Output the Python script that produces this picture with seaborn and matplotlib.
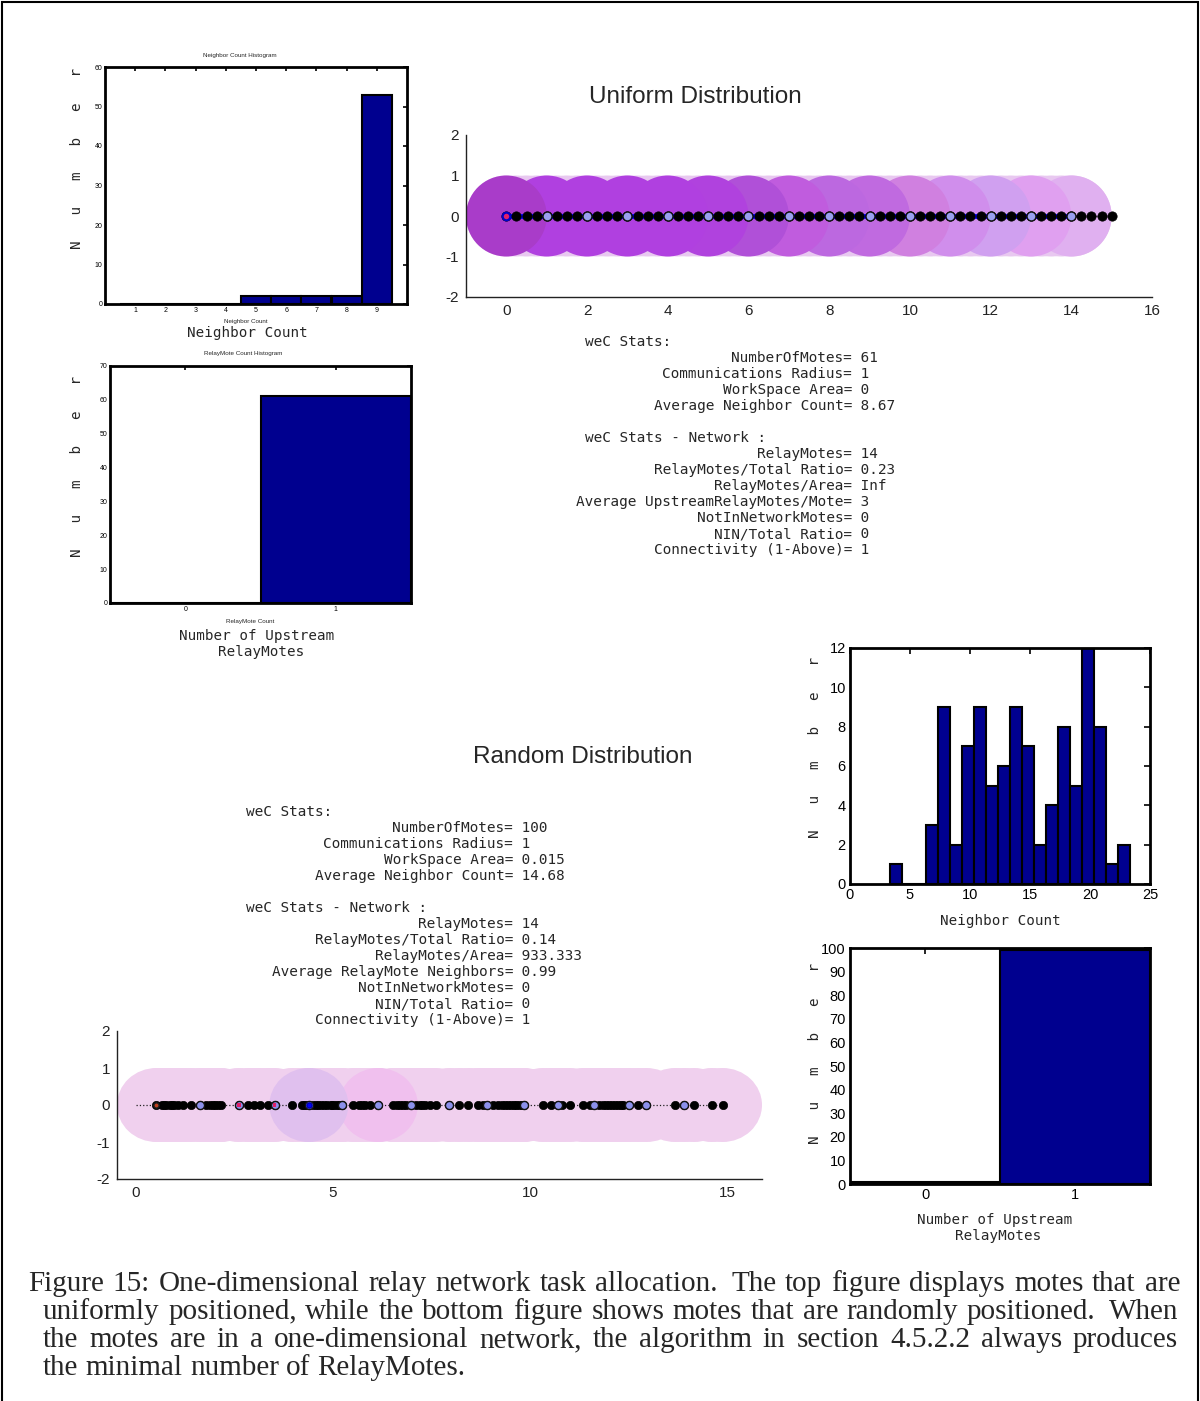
import numpy as np
import pandas as pd
import matplotlib
matplotlib.use("Agg")
import matplotlib.pyplot as plt
from matplotlib.patches import Ellipse, Rectangle
import seaborn as sns

# ---------------- data ----------------
uni_nc_values = [1, 2, 3, 4, 5, 6, 7, 8, 9]
uni_nc_counts = [0, 0, 0, 0, 2, 2, 2, 2, 53]
uni_rm_values = [0, 1]
uni_rm_counts = [0, 61]

uni_motes = [0.0, 0.25, 0.5, 0.75, 1.0, 1.25, 1.5, 1.75, 2.0, 2.25, 2.5, 2.75,
             3.0, 3.25, 3.5, 3.75, 4.0, 4.25, 4.5, 4.75, 5.0, 5.25, 5.5, 5.75,
             6.0, 6.25, 6.5, 6.75, 7.0, 7.25, 7.5, 7.75, 8.0, 8.25, 8.5, 8.75,
             9.0, 9.25, 9.5, 9.75, 10.0, 10.25, 10.5, 10.75, 11.0, 11.25, 11.5,
             11.75, 12.0, 12.25, 12.5, 12.75, 13.0, 13.25, 13.5, 13.75, 14.0,
             14.25, 14.5, 14.75, 15.0]
uni_root = [0.0]
uni_relays = [1, 2, 3, 4, 5, 6, 7, 8, 9, 10, 11, 12, 13, 14]
uni_cover = [0, 1, 2, 3, 4, 5, 6, 7, 8, 9, 10, 11, 12, 13, 14]

rand_motes = [0.53, 0.66, 0.73, 0.78, 0.88, 0.93, 0.98, 1.08, 1.20,
              1.40, 1.64, 1.78, 1.88, 1.95, 2.02, 2.10, 2.16,
              2.61, 2.86, 3.00, 3.14, 3.36, 3.52, 3.97,
              4.22, 4.27, 4.32, 4.39, 4.50, 4.57, 4.62, 4.70, 4.78, 4.86, 4.94,
              4.98, 5.02, 5.10, 5.16, 5.23,
              5.52, 5.66, 5.74, 5.82, 5.95, 6.15,
              6.52, 6.62, 6.70, 6.78, 6.86, 6.98, 7.10, 7.20, 7.26, 7.34, 7.45, 7.60,
              7.95, 8.19, 8.43, 8.68, 8.80, 8.91, 9.06,
              9.18, 9.28, 9.36, 9.44, 9.52, 9.58, 9.64, 9.72, 9.78, 9.84,
              10.32, 10.52, 10.71, 10.80, 11.00, 11.34,
              11.50, 11.62, 11.74, 11.84, 11.92, 12.00, 12.06, 12.14, 12.22, 12.30, 12.36,
              12.51, 12.72, 12.94, 13.67, 13.90, 14.15, 14.60, 14.87]
rand_root = [0.53]
rand_relays = [1.64, 2.61, 3.52, 4.39, 5.23, 6.15, 6.98, 7.95, 8.91, 9.84,
               10.71, 11.62, 12.51, 12.94, 13.90]
rand_red_marks = [2.61, 3.52]
rand_blue_mark = [4.39]
rand_highlight = [4.39, 6.15]

rand_nc_start = 3.37
rand_nc_width = 0.9965
rand_nc_counts = [1, 0, 0, 3, 9, 2, 7, 9, 5, 6, 9, 7, 2, 4, 8, 5, 12, 8, 1, 2]
rand_rm_values = [0, 1]
rand_rm_counts = [1, 99]

uni_stats_a = [("NumberOfMotes", "61"), ("Communications Radius", "1"),
               ("WorkSpace Area", "0"), ("Average Neighbor Count", "8.67")]
uni_stats_b = [("RelayMotes", "14"), ("RelayMotes/Total Ratio", "0.23"),
               ("RelayMotes/Area", "Inf"), ("Average UpstreamRelayMotes/Mote", "3"),
               ("NotInNetworkMotes", "0"), ("NIN/Total Ratio", "0"),
               ("Connectivity (1-Above)", "1")]
rand_stats_a = [("NumberOfMotes", "100"), ("Communications Radius", "1"),
                ("WorkSpace Area", "0.015"), ("Average Neighbor Count", "14.68")]
rand_stats_b = [("RelayMotes", "14"), ("RelayMotes/Total Ratio", "0.14"),
                ("RelayMotes/Area", "933.333"), ("Average RelayMote Neighbors", "0.99"),
                ("NotInNetworkMotes", "0"), ("NIN/Total Ratio", "0"),
                ("Connectivity (1-Above)", "1")]

caption = ["Figure 15: One-dimensional relay network task allocation.  The top figure displays motes that are",
           "uniformly positioned, while the bottom figure shows motes that are randomly positioned.  When",
           "the motes are in a one-dimensional network, the algorithm in section 4.5.2.2 always produces",
           "the minimal number of RelayMotes."]

# ---------------- style ----------------
sns.set_theme(style="white")
plt.rcParams['font.family'] = ['Liberation Sans', 'DejaVu Sans']
plt.rcParams['axes.unicode_minus'] = False
NAVY = '#00008F'
MONO = 'DejaVu Sans Mono'
SERIF = 'Liberation Serif'

W, H = 1200, 1401
fig = plt.figure(figsize=(W / 100, H / 100), dpi=100)
fig.patch.set_facecolor('white')


def ax_at(l, t, r, b):
    return fig.add_axes([l / W, 1 - b / H, (r - l) / W, (b - t) / H])


def ftext(x, y, s, **kw):
    kw.setdefault('ha', 'center')
    kw.setdefault('va', 'center')
    return fig.text(x / W, 1 - y / H, s, **kw)


def style_hist(ax, small=False):
    for sp in ax.spines.values():
        sp.set_visible(True)
        sp.set_linewidth(2.0)
        sp.set_color('black')
    ax.tick_params(direction='in', top=True, right=True, length=3 if small else 4,
                   width=1.2, labelsize=5 if small else 10.5, colors='black',
                   pad=2 if small else 3)
    ax.set_xlabel('')
    ax.set_ylabel('')


def hist(ax, values, weights, bins):
    df = pd.DataFrame({'v': values, 'w': weights})
    sns.histplot(data=df, x='v', weights='w', bins=list(bins), ax=ax, color=NAVY,
                 edgecolor='black', linewidth=1.5, alpha=1.0, stat='count')


# ---- top-left histogram ----
ax1 = ax_at(105, 67, 407, 304)
hist(ax1, uni_nc_values, uni_nc_counts, np.arange(0.5, 10.0, 1.0))
ax1.set_xlim(0, 10)
ax1.set_ylim(0, 60)
ax1.set_xticks(uni_nc_values)
ax1.set_yticks([0, 10, 20, 30, 40, 50, 60])
style_hist(ax1, small=True)
ftext(240, 55, "Neighbor Count Histogram", fontsize=4.5)
ftext(246, 322, "Neighbor Count", fontsize=4.5)
ftext(247, 333, "Neighbor Count", fontsize=10.3, family=MONO)
ftext(77, 158, "N   u   m   b   e   r", fontsize=10.3, family=MONO, rotation=90)

# ---- second-left histogram ----
ax2 = ax_at(110, 366, 411, 603)
hist(ax2, uni_rm_values, uni_rm_counts, [-0.5, 0.5, 1.5])
ax2.set_xlim(-0.5, 1.5)
ax2.set_ylim(0, 70)
ax2.set_xticks([0, 1])
ax2.set_yticks([0, 10, 20, 30, 40, 50, 60, 70])
style_hist(ax2, small=True)
ftext(243, 354, "RelayMote Count Histogram", fontsize=4.5)
ftext(250, 621, "RelayMote Count", fontsize=4.5)
ftext(257, 636, "Number of Upstream", fontsize=10.3, family=MONO)
ftext(261, 652, "RelayMotes", fontsize=10.3, family=MONO)
ftext(77, 466, "N   u   m   b   e   r", fontsize=10.3, family=MONO, rotation=90)


def style_scatter(ax):
    for k in ['top', 'right']:
        ax.spines[k].set_visible(False)
    for k in ['left', 'bottom']:
        ax.spines[k].set_linewidth(1.0)
        ax.spines[k].set_color('#222222')
    ax.tick_params(direction='in', length=5, width=1.0, labelsize=11,
                   colors='#222222', pad=5)
    ax.set_xlabel('')
    ax.set_ylabel('')
    ax.set_facecolor('white')


# ---- uniform distribution ----
axu = ax_at(466, 135, 1152, 297)
uni_cover_colors = ['#A93CC9', '#B040E0', '#B040E0', '#B040E0', '#B040E0', '#B042DE',
                    '#B050D8', '#C05CDE', '#BC68E0', '#C06AE0', '#D080E0', '#D08EEC',
                    '#D0A0F0', '#E0A0F0', '#E0B0F0']
for cx in uni_motes[:57]:
    axu.add_patch(Ellipse((cx, 0), 2, 2, facecolor='#E8C8F0', edgecolor='none', zorder=1))
for cx, col in reversed(list(zip(uni_cover, uni_cover_colors))):
    axu.add_patch(Ellipse((cx, 0), 2, 2, facecolor=col, edgecolor='none', zorder=2))
axu.plot([uni_root[0] - 0.05, uni_motes[-1]], [0, 0], color='#111111', lw=0.8,
         ls=':', zorder=3)
axu.plot([uni_root[0], uni_relays[-1]], [0, 0], color='#0000FF', lw=3.5, zorder=3)
sns.scatterplot(x=uni_motes, y=[0] * len(uni_motes), color='black', s=45,
                edgecolor='black', linewidth=0.5, ax=axu, zorder=4)
sns.scatterplot(x=uni_relays, y=[0] * len(uni_relays), color='#9AA0F0', s=42,
                edgecolor='#111111', linewidth=1.0, ax=axu, zorder=5)
sns.scatterplot(x=uni_root, y=[0], color='#E0206A', s=30, edgecolor='#0000CC',
                linewidth=1.5, ax=axu, zorder=6)
axu.set_xlim(-1, 16)
axu.set_ylim(-2, 2)
axu.set_xticks([0, 2, 4, 6, 8, 10, 12, 14, 16])
axu.set_yticks([-2, -1, 0, 1, 2])
style_scatter(axu)
ftext(695, 97, "Uniform Distribution", fontsize=17.5)


def stats_block(x_head, x_eq, y0, block_a, block_b):
    ftext(x_head, y0, "weC Stats:", fontsize=10.4, family=MONO, ha='left')
    y = y0 + 16
    for lab, val in block_a:
        ftext(x_eq, y, lab + "=", fontsize=10.4, family=MONO, ha='right')
        ftext(x_eq, y, " " + val, fontsize=10.4, family=MONO, ha='left')
        y += 16
    y += 16
    ftext(x_head, y, "weC Stats - Network :", fontsize=10.4, family=MONO, ha='left')
    y += 16
    for lab, val in block_b:
        ftext(x_eq, y, lab + "=", fontsize=10.4, family=MONO, ha='right')
        ftext(x_eq, y, " " + val, fontsize=10.4, family=MONO, ha='left')
        y += 16


stats_block(585, 852, 342, uni_stats_a, uni_stats_b)

# ---- random distribution ----
axr = ax_at(117, 1031, 762, 1179)
for cx in rand_motes:
    axr.add_patch(Ellipse((cx, 0), 2, 2, facecolor='#F0D0EE', edgecolor='none', zorder=1))
for cx, col in reversed(list(zip(rand_highlight, ['#E0C0EE', '#F0C0EE']))):
    axr.add_patch(Ellipse((cx, 0), 2, 2, facecolor=col, edgecolor='none', zorder=2))
axr.plot([0, rand_motes[-1]], [0, 0], color='#222222', lw=0.9, ls=':', zorder=3)
sns.scatterplot(x=rand_motes, y=[0] * len(rand_motes), color='black', s=36,
                edgecolor='black', linewidth=0.5, ax=axr, zorder=4)
sns.scatterplot(x=rand_relays, y=[0] * len(rand_relays), color='#8C90EC', s=34,
                edgecolor='#111111', linewidth=1.0, ax=axr, zorder=5)
sns.scatterplot(x=rand_red_marks, y=[0] * len(rand_red_marks), color='#E0206A',
                s=8, marker='s', edgecolor='none', ax=axr, zorder=6)
sns.scatterplot(x=rand_blue_mark, y=[0], color='#0000FF', s=14, edgecolor='#0000AA',
                linewidth=1.0, ax=axr, zorder=6)
sns.scatterplot(x=rand_root, y=[0], color='#C04020', s=14, edgecolor='#202020',
                linewidth=1.0, ax=axr, zorder=6)
axr.set_xlim(rand_motes[0] - 1, rand_motes[-1] + 1)
axr.set_ylim(-2, 2)
axr.set_xticks([0, 5, 10, 15])
axr.set_yticks([-2, -1, 0, 1, 2])
style_scatter(axr)
ftext(583, 757, "Random Distribution", fontsize=17.5)
stats_block(246, 513, 812, rand_stats_a, rand_stats_b)

# ---- right top histogram ----
ax3 = ax_at(850, 648, 1150, 884)
edges = [rand_nc_start + k * rand_nc_width for k in range(len(rand_nc_counts) + 1)]
centers = [(edges[k] + edges[k + 1]) / 2 for k in range(len(rand_nc_counts))]
hist(ax3, centers, rand_nc_counts, edges)
ax3.set_xlim(0, 25)
ax3.set_ylim(0, 12)
ax3.set_xticks([0, 5, 10, 15, 20, 25])
ax3.set_yticks([0, 2, 4, 6, 8, 10, 12])
style_hist(ax3)
ftext(1000, 921, "Neighbor Count", fontsize=10.3, family=MONO)
ftext(815, 747, "N   u   m   b   e   r", fontsize=10.3, family=MONO, rotation=90)

# ---- right bottom histogram ----
ax4 = ax_at(850, 948, 1150, 1184)
hist(ax4, rand_rm_values, rand_rm_counts, [-0.5, 0.5, 1.5])
ax4.set_xlim(-0.5, 1.5)
ax4.set_ylim(0, 100)
ax4.set_xticks([0, 1])
ax4.set_yticks([0, 10, 20, 30, 40, 50, 60, 70, 80, 90, 100])
style_hist(ax4)
ftext(995, 1220, "Number of Upstream", fontsize=10.3, family=MONO)
ftext(998, 1236, "RelayMotes", fontsize=10.3, family=MONO)
ftext(815, 1053, "N   u   m   b   e   r", fontsize=10.3, family=MONO, rotation=90)

# ---- caption (justified) ----
renderer = fig.canvas.get_renderer()
CAP_FS = 21


def caption_line(line, x0, x1, y, justify):
    words = line.split()
    arts, widths = [], []
    for w_ in words:
        t = ftext(0, y, w_, fontsize=CAP_FS, family=SERIF, ha='left')
        arts.append(t)
        widths.append(t.get_window_extent(renderer).width)
    space = ftext(0, y, "a a", fontsize=CAP_FS, family=SERIF, ha='left')
    sp_w = space.get_window_extent(renderer).width
    a_t = ftext(0, y, "aa", fontsize=CAP_FS, family=SERIF, ha='left')
    sp_w -= a_t.get_window_extent(renderer).width
    space.remove()
    a_t.remove()
    weights = [1.5 if words[k].endswith('.') else 1.0 for k in range(len(words) - 1)]
    if justify and len(words) > 1:
        gap = (x1 - x0 - sum(widths)) / sum(weights)
    else:
        gap = sp_w
    x = x0
    for k, t in enumerate(arts):
        t.set_x(x / W)
        x += widths[k]
        if k < len(weights):
            x += gap * weights[k]


caption_line(caption[0], 28, 1180, 1284, True)
caption_line(caption[1], 43, 1178, 1312, True)
caption_line(caption[2], 43, 1178, 1340, True)
caption_line(caption[3], 43, 1178, 1368, False)

# ---- outer frame ----
fig.patches.append(Rectangle((1.5 / W, -0.01), (W - 3.5) / W, 1.01 - 1.5 / H,
                             transform=fig.transFigure, fill=False,
                             edgecolor='black', linewidth=1.5))

fig.savefig("out.png", dpi=100, facecolor='white')
